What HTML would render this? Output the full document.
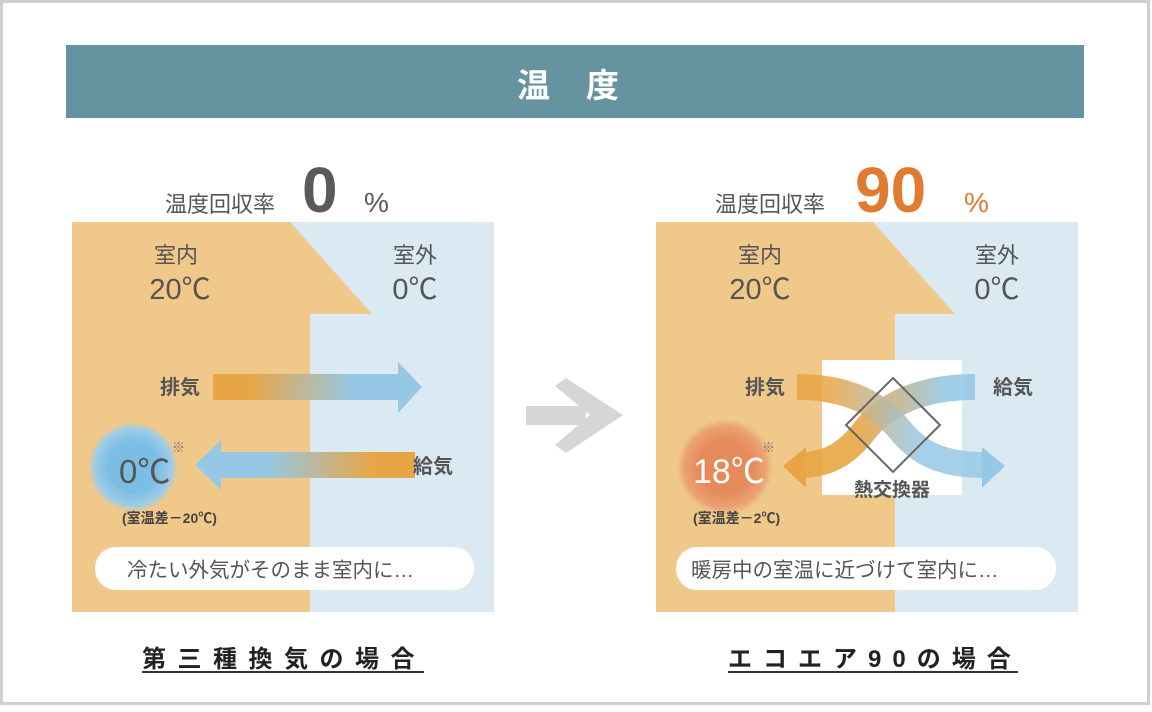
<!DOCTYPE html>
<html><head><meta charset="utf-8"><style>
html,body{margin:0;padding:0;background:#fff}
body{width:1152px;height:707px;overflow:hidden}
text{font-family:"Liberation Sans","Noto Sans CJK JP",sans-serif}
</style></head><body>
<svg width="1152" height="707" viewBox="0 0 1152 707" xmlns="http://www.w3.org/2000/svg">
<defs>
<linearGradient id="gEx" x1="213" x2="400" gradientUnits="userSpaceOnUse"><stop offset="0.2" stop-color="#e8a545"/><stop offset="0.75" stop-color="#96c8e6"/></linearGradient>
<linearGradient id="gSu" x1="415" x2="215" gradientUnits="userSpaceOnUse"><stop offset="0.2" stop-color="#e8a545"/><stop offset="0.75" stop-color="#96c8e6"/></linearGradient>
<linearGradient id="gO" x1="800" x2="1000" gradientUnits="userSpaceOnUse"><stop offset="0.15" stop-color="#e8a545"/><stop offset="0.6" stop-color="#96c8e6"/></linearGradient>
<linearGradient id="gB" x1="975" x2="780" gradientUnits="userSpaceOnUse"><stop offset="0.15" stop-color="#96c8e6"/><stop offset="0.6" stop-color="#e8a545"/></linearGradient>
<radialGradient id="cB"><stop offset="0.55" stop-color="#7cbde3"/><stop offset="0.85" stop-color="#9ccde8"/><stop offset="1" stop-color="#9ccde8" stop-opacity="0"/></radialGradient>
<radialGradient id="cO"><stop offset="0.55" stop-color="#e58b5b"/><stop offset="0.85" stop-color="#eba273"/><stop offset="1" stop-color="#eba273" stop-opacity="0"/></radialGradient>
</defs>
<rect x="1.5" y="1.5" width="1147" height="702" fill="none" stroke="#cfcfcf" stroke-width="3"/>
<rect x="66" y="45" width="1018" height="73" fill="#6693a0"/>
<text x="517" y="97" font-size="33" font-weight="bold" fill="#fff" letter-spacing="36">温度</text>

<!-- left panel -->
<rect x="72" y="222" width="422" height="390" fill="#dbeaf2"/>
<polygon points="72,222 290,222 372,314 310,314 310,612 72,612" fill="#f0c98a"/>
<text x="165" y="212" font-size="22" fill="#555">温度回収率</text>
<text x="302" y="212" font-size="64" font-weight="bold" fill="#5a5a5a">0</text>
<text x="364" y="212" font-size="28" fill="#5a5a5a">%</text>
<text x="176" y="263" font-size="22" fill="#555" text-anchor="middle">室内</text>
<text x="180" y="299" font-size="29" fill="#555" text-anchor="middle">20℃</text>
<text x="415" y="263" font-size="22" fill="#555" text-anchor="middle">室外</text>
<text x="415" y="299" font-size="29" fill="#555" text-anchor="middle">0℃</text>
<text x="160" y="394" font-size="20" font-weight="bold" fill="#555">排気</text>
<rect x="213" y="374" width="190" height="26" fill="url(#gEx)"/>
<polygon points="398,362 422,387 398,413" fill="#96c8e6"/>
<rect x="215" y="452" width="200" height="26" fill="url(#gSu)"/>
<polygon points="221,440 195,465 221,490" fill="#96c8e6"/>
<text x="413" y="473" font-size="20" font-weight="bold" fill="#555">給気</text>
<circle cx="133" cy="467" r="45" fill="url(#cB)"/>
<text x="119" y="483" font-size="33" fill="#555">0℃</text>
<text x="172" y="452" font-size="13" fill="#777">※</text>
<text x="122" y="523" font-size="14" font-weight="bold" fill="#444">(室温差－20℃)</text>
<rect x="95" y="547" width="379" height="43" rx="21" fill="#fff"/>
<text x="127" y="577" font-size="20.5" fill="#555">冷たい外気がそのまま室内に…</text>
<text x="142" y="667" font-size="24" font-weight="bold" fill="#222" letter-spacing="11.5">第三種換気の場合</text>
<rect x="142" y="671" width="282" height="2" fill="#333"/>

<!-- middle arrow -->
<rect x="526" y="406" width="60" height="19" fill="#d6d6d6"/>
<polygon points="555,386 566,378 623,415 566,453 555,445 590,415" fill="#d6d6d6"/>

<!-- right panel -->
<rect x="656" y="222" width="422" height="390" fill="#dbeaf2"/>
<polygon points="656,222 873,222 955,314 895,314 895,612 656,612" fill="#f0c98a"/>
<text x="715" y="212" font-size="22" fill="#555">温度回収率</text>
<text x="855" y="212" font-size="64" font-weight="bold" fill="#e07b30">90</text>
<text x="964" y="212" font-size="28" fill="#e07b30">%</text>
<text x="760" y="263" font-size="22" fill="#555" text-anchor="middle">室内</text>
<text x="760" y="299" font-size="29" fill="#555" text-anchor="middle">20℃</text>
<text x="997" y="263" font-size="22" fill="#555" text-anchor="middle">室外</text>
<text x="997" y="299" font-size="29" fill="#555" text-anchor="middle">0℃</text>
<rect x="822" y="360" width="140" height="135" fill="#fff"/>
<path d="M975,387 C920,387 885,405 865,430 C848,452 830,465 800,465" fill="none" stroke="url(#gB)" stroke-width="26" stroke-opacity="0.9"/>
<polygon points="806,447 783,466 806,488" fill="#e8a545"/>
<path d="M797,387 C850,387 880,405 900,430 C918,452 940,465 985,465" fill="none" stroke="url(#gO)" stroke-width="26" stroke-opacity="0.85"/>
<polygon points="982,447 1005,466 982,488" fill="#96c8e6"/>
<polygon points="893,378 940,425 893,472 846,425" fill="none" stroke="#666" stroke-width="2"/>
<text x="745" y="394" font-size="20" font-weight="bold" fill="#555">排気</text>
<text x="993" y="394" font-size="20" font-weight="bold" fill="#555">給気</text>
<text x="892" y="496" font-size="19" font-weight="bold" fill="#555" text-anchor="middle">熱交換器</text>
<circle cx="725" cy="467" r="48" fill="url(#cO)"/>
<text x="693" y="483" font-size="34" fill="#fff">18℃</text>
<text x="762" y="452" font-size="13" fill="#777">※</text>
<text x="693" y="523" font-size="14" font-weight="bold" fill="#444">(室温差－2℃)</text>
<rect x="676" y="547" width="380" height="43" rx="21" fill="#fff"/>
<text x="691" y="577" font-size="20.5" fill="#555">暖房中の室温に近づけて室内に…</text>
<text x="728" y="667" font-size="24" font-weight="bold" fill="#222" letter-spacing="11">エコエア90の場合</text>
<rect x="728" y="671" width="290" height="2" fill="#333"/>
</svg>
</body></html>
